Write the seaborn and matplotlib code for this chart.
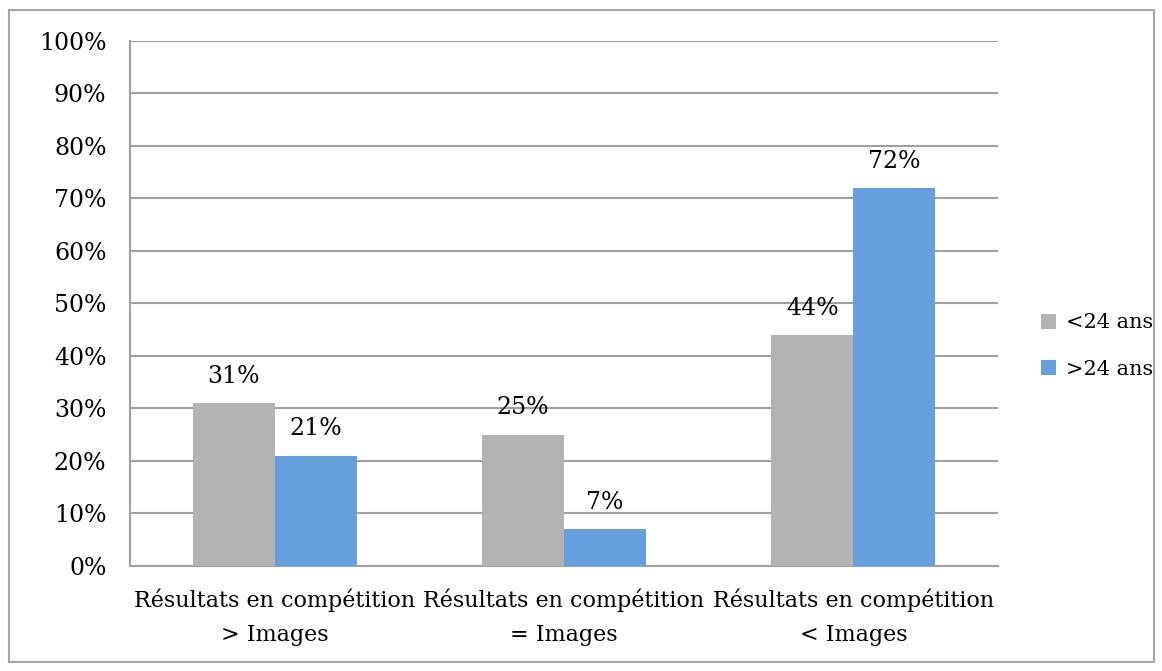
import matplotlib.pyplot as plt
import matplotlib.patches as mpatches
import numpy as np
import pandas as pd
import seaborn as sns

categories = [
    "Résultats en compétition\n> Images",
    "Résultats en compétition\n= Images",
    "Résultats en compétition\n< Images",
]
groups = ["<24 ans", ">24 ans"]
under_24 = [31, 25, 44]
over_24 = [21, 7, 72]

df = pd.DataFrame(
    {
        "cat": categories * 2,
        "group": [groups[0]] * 3 + [groups[1]] * 3,
        "val": under_24 + over_24,
    }
)

sns.set_style("white")
plt.rcParams["font.family"] = ["DejaVu Serif"]
plt.rcParams["font.size"] = 16
plt.rcParams["text.color"] = "black"
plt.rcParams["xtick.labelcolor"] = "black"
plt.rcParams["ytick.labelcolor"] = "black"

grid_col = "#A0A0A0"
fig = plt.figure(figsize=(11.62, 6.71), dpi=100)
ax = fig.add_axes([0.1119, 0.1565, 0.747, 0.7824])

sns.barplot(
    data=df, x="cat", y="val", hue="group", palette=["#B3B3B3", "#65A0DC"],
    width=0.567, saturation=1, linewidth=0, ax=ax, zorder=3,
)

for cont in ax.containers:
    ax.bar_label(cont, fmt="%d%%", padding=11, fontsize=17, color="black")

ax.set_ylim(0, 100)
ax.set_xlim(-0.5, 2.5)
ax.set_yticks(np.arange(0, 101, 10))
ax.set_yticklabels([f"{v}%" for v in range(0, 101, 10)])
ax.yaxis.grid(True, color=grid_col, linewidth=1.5, zorder=0)
ax.set_axisbelow(True)
ax.set_xlabel("")
ax.set_ylabel("")

ax.set_xticks(range(len(categories)))
ax.set_xticklabels(categories, linespacing=1.75)
ax.tick_params(axis="x", which="major", length=0, pad=16, labelsize=16)
ax.set_xticks([-0.5, 0.5, 1.5, 2.5], minor=True)
ax.tick_params(axis="x", which="minor", length=8, width=1.5, color=grid_col, direction="out")
ax.tick_params(axis="y", length=10, width=1.5, color=grid_col, direction="out", pad=7, labelsize=17)

for side in ["top", "right"]:
    ax.spines[side].set_visible(False)
for side in ["left", "bottom"]:
    ax.spines[side].set_color(grid_col)
    ax.spines[side].set_linewidth(1.5)

ax.legend(
    loc="center left", bbox_to_anchor=(1.049, 0.419), frameon=False, fontsize=15,
    handlelength=0.75, handleheight=0.75, handletextpad=0.45, labelspacing=1.3,
    borderpad=0, borderaxespad=0,
)

fig.patches.append(
    mpatches.Rectangle(
        (0.008, 0.013), 0.985, 0.972, transform=fig.transFigure,
        fill=False, edgecolor="#A6A6A6", linewidth=1.5,
    )
)

fig.savefig("out.png", dpi=100)
